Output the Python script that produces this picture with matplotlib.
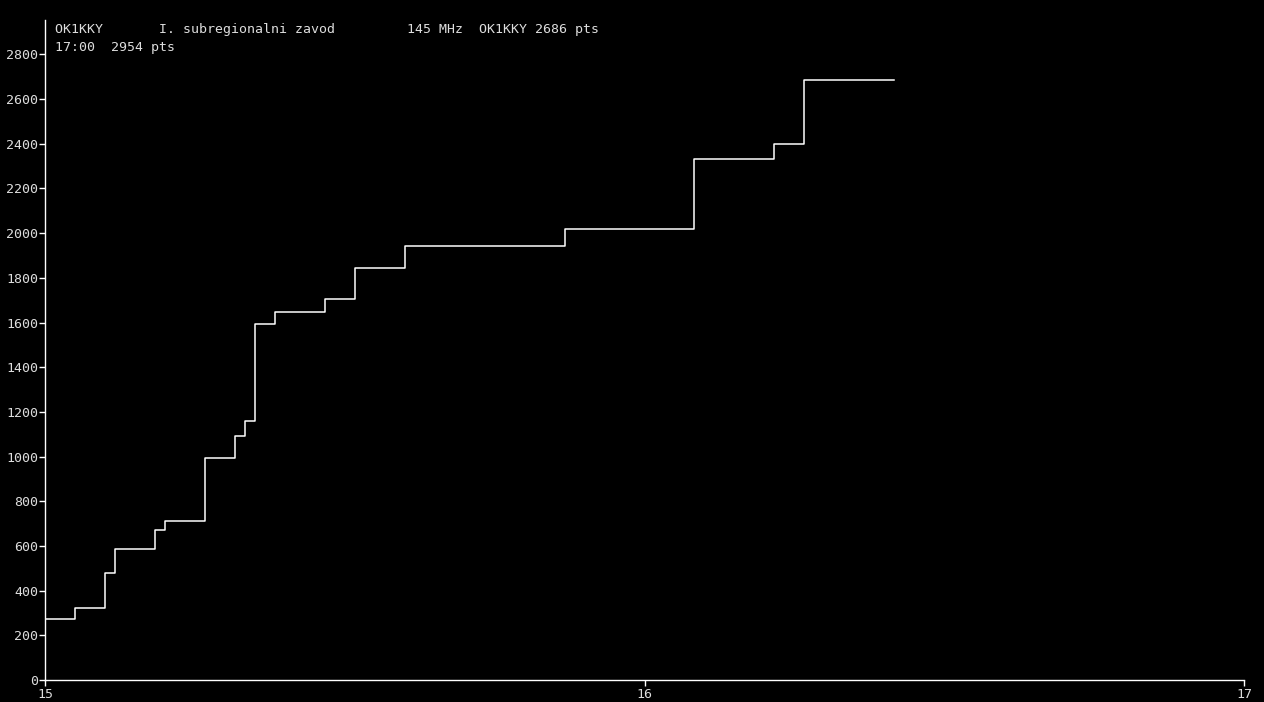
import matplotlib
matplotlib.use("Agg")
import matplotlib.pyplot as plt

# minutes after 15:00 when the score changed, and the running score
minutes = [0, 3, 6, 7, 11, 12, 16, 19, 20, 21, 23, 28, 31, 36, 52, 65, 73, 76, 85]
points = [273, 323, 479, 587, 672, 712, 995, 1093, 1160, 1595, 1649, 1707,
          1846, 1944, 2020, 2330, 2401, 2686, 2686]
x_ticks = [15, 16, 17]
y_ticks = list(range(0, 2801, 200))
y_max = 2954
title_line1 = "OK1KKY       I. subregionalni zavod         145 MHz  OK1KKY 2686 pts"
title_line2 = "17:00  2954 pts"

fg = "#dddddd"
mono = "DejaVu Sans Mono"

fig = plt.figure(figsize=(12.64, 7.02), dpi=100, facecolor="black")
ax = fig.add_axes([45 / 1264, 22 / 702, 1199 / 1264, 660 / 702], facecolor="black")

hours = [15 + m / 60 for m in minutes]
ax.plot(hours, points, drawstyle="steps-post", color="white", lw=1.1)

ax.set_xlim(15, 17)
ax.set_ylim(0, y_max)
ax.set_xticks(x_ticks)
ax.set_yticks(y_ticks)

for s in ["top", "right"]:
    ax.spines[s].set_visible(False)
for s in ["left", "bottom"]:
    ax.spines[s].set_color("white")
    ax.spines[s].set_linewidth(1.0)

ax.tick_params(colors="white", labelcolor=fg, length=4, width=1, labelsize=9.5)
for lab in ax.get_xticklabels() + ax.get_yticklabels():
    lab.set_family(mono)
ax.tick_params(axis="x", pad=2)
ax.tick_params(axis="y", pad=1)

fig.text(55 / 1264, 1 - 29 / 702, title_line1, color=fg, family=mono,
         fontsize=9.5, va="center", ha="left")
fig.text(55 / 1264, 1 - 47 / 702, title_line2, color=fg, family=mono,
         fontsize=9.5, va="center", ha="left")

fig.savefig("out.png", dpi=100, facecolor="black")
